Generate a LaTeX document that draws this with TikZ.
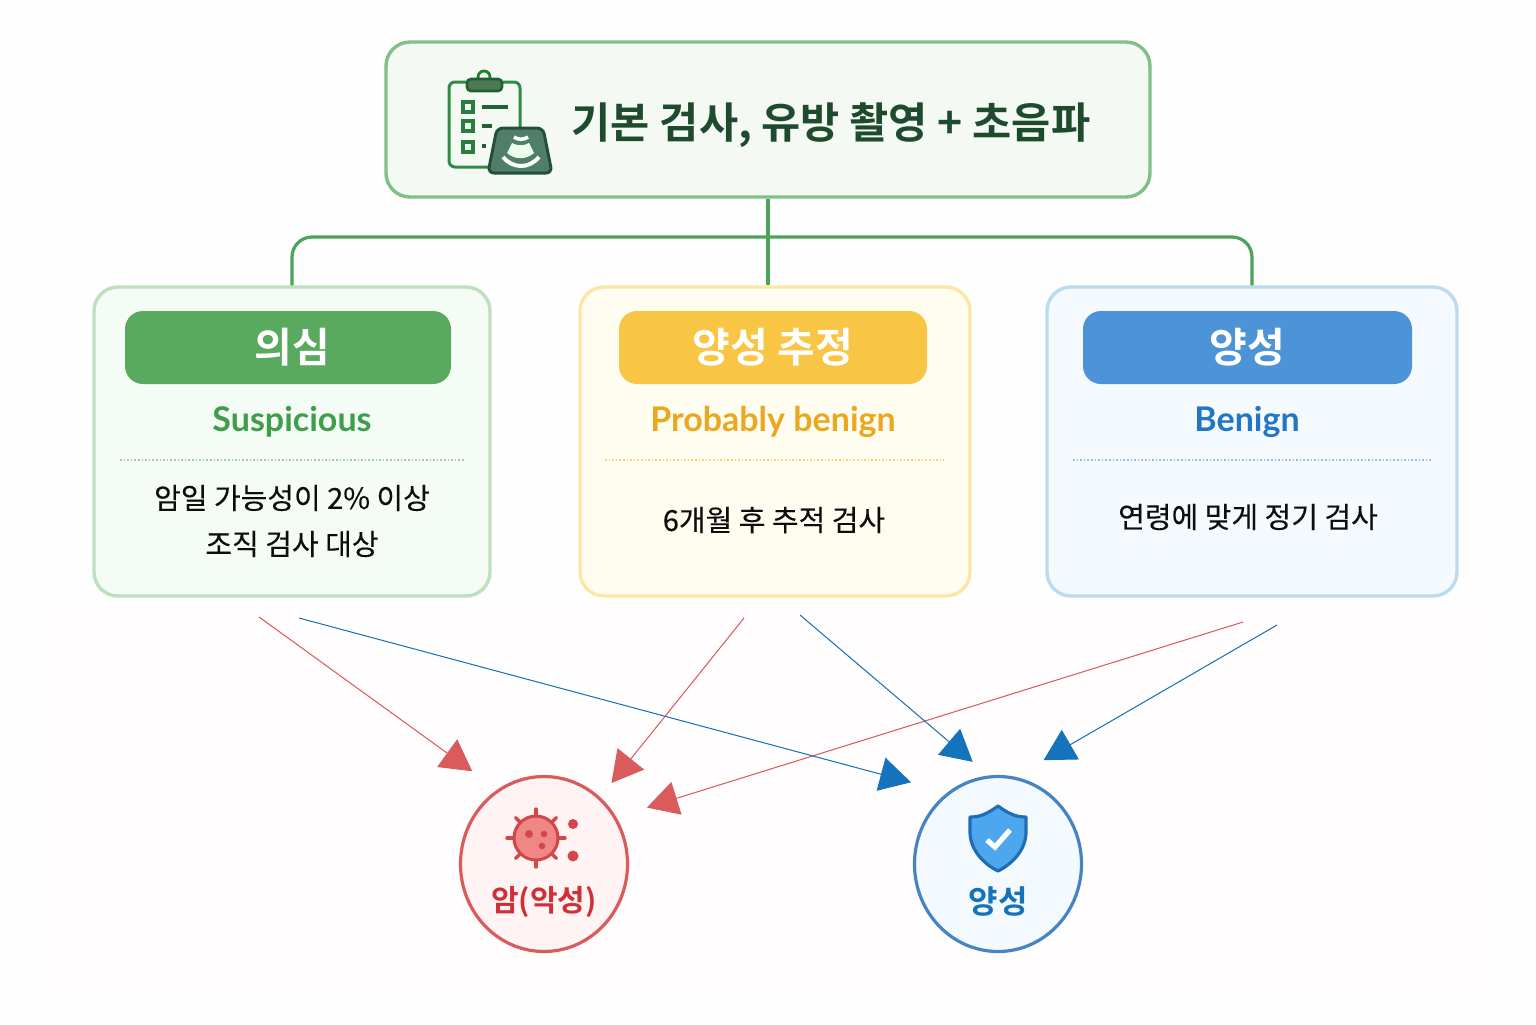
\documentclass[tikz,border=0pt]{standalone}
\usepackage{fontspec}
\usetikzlibrary{positioning,calc,arrows.meta,shapes.geometric}
\setmainfont{Lato}
\newfontfamily\kr[BoldFont={Noto Sans CJK KR Bold}]{Noto Sans CJK KR}
\newfontfamily\krmed[FakeBold=0.2]{Noto Sans CJK KR}
\definecolor{leaf}{HTML}{4CA35A}
\definecolor{clipgreen}{HTML}{2E8B45}
\definecolor{probedark}{HTML}{24503A}
\definecolor{titlegreen}{HTML}{1E4A2E}
\definecolor{cancer}{HTML}{D95B5B}
\definecolor{cure}{HTML}{1572BD}
\definecolor{badgegreen}{HTML}{59AA5F}
\definecolor{badgeyellow}{HTML}{F8C545}
\definecolor{badgeblue}{HTML}{4C93D8}
\definecolor{virusred}{HTML}{D3474B}

\begin{document}
\begin{tikzpicture}[
    x=0.5pt, y=-0.5pt,
    card/.style={draw, rounded corners=12pt, line width=1.7pt, minimum height=154.5pt, inner sep=0pt},
    badge/.style={rounded corners=9pt, minimum height=36.5pt, inner sep=0pt, text=white, font=\kr\bfseries\fontsize{20.5}{24}\selectfont},
    sublabel/.style={font=\bfseries\fontsize{17}{20}\selectfont},
    bodytext/.style={text=black!95, font=\krmed\fontsize{14.5}{18}\selectfont},
    divider/.style={densely dotted, line width=0.8pt},
    trunk/.style={draw=leaf, line width=1.6pt},
    result/.style={ellipse, line width=1.6pt, minimum width=83.5pt, minimum height=87.5pt, inner sep=0pt, draw},
    arrow/.style={line width=0.5pt, -{Triangle[length=15.5pt,width=17pt]}},
    tick/.style={draw=clipgreen!90!black, line width=1.6pt, fill=green!8}
]
\useasboundingbox (0,0) rectangle (1536,1024);
\fill[white!99.5!gray] (0,0) rectangle (1536,1024);
\fill[red!0.8!white] (40,605) rectangle (1490,1000);

% Define boxes
\node[card, draw={rgb,255:red,127;green,192;blue,138}, fill={rgb,255:red,244;green,250;blue,243}, minimum width=382pt, minimum height=77.5pt] (top) at (768,119.5) {};
\node[card, draw={rgb,255:red,191;green,224;blue,191}, fill={rgb,255:red,245;green,251;blue,245}, minimum width=198pt] (susp) at (292,441.5) {};
\node[card, draw={rgb,255:red,253;green,230;blue,165}, fill={rgb,255:red,255;green,252;blue,240}, minimum width=195pt] (prob) at (775,441.5) {};
\node[card, draw={rgb,255:red,187;green,218;blue,240}, fill={rgb,255:red,245;green,250;blue,254}, minimum width=205pt] (ben) at (1252,441.5) {};

% Title
\node[text=titlegreen, font=\kr\bfseries\fontsize{21.3}{26}\selectfont] (title) at (831,125) {기본 검사, 유방 촬영 + 초음파};

% Tree lines
\coordinate (fork) at (768,237);
\draw[trunk] (top.south) -- (top.south |- prob.north);
\draw[trunk, rounded corners=10pt] (susp.north) -- (susp.north |- fork) -- (ben.north |- fork) -- (ben.north);

% Badges
\node[badge, fill=badgegreen, minimum width=163pt] (badgeS) at (288,347.5) {\hspace*{4pt}의심};
\node[badge, fill=badgeyellow, minimum width=154pt] (badgeP) at (773,347.5) {양성 추정};
\node[badge, fill=badgeblue, minimum width=164.5pt] (badgeB) at (1247.5,347.5) {양성};

% Sub labels
\node[sublabel, text={rgb,255:red,62;green,158;blue,74}] (subS) at (292,422) {Suspicious};
\node[sublabel, text={rgb,255:red,233;green,168;blue,32}] (subP) at (773,422) {Probably benign};
\node[sublabel, text={rgb,255:red,34;green,118;blue,200}] (subB) at (1247,422) {Benign};

% Dividers
\draw[divider, draw=leaf!55!white] (120,460) -- (465,460);
\draw[divider, draw=badgeyellow!80!white] (605,460) -- (944,460);
\draw[divider, draw=badgeblue!60!white] (1073,460) -- (1431,460);

% Body text
\node[bodytext] (bodyS1) at (292,498) {암일 가능성이 2\% 이상};
\node[bodytext] (bodyS2) at (292,544) {조직 검사 대상};
\node[bodytext] (bodyP) at (774,520) {6개월 후 추적 검사};
\node[bodytext] (bodyB) at (1248,517) {연령에 맞게 정기 검사};

% Result circles
\node[result, draw=cancer, fill={rgb,255:red,255;green,243;blue,243}] (malig) at (544,864) {};
\node[result, draw=badgeblue!90!black, fill={rgb,255:red,244;green,249;blue,254}] (good) at (998,864) {};
\node[text={rgb,255:red,207;green,47;blue,53}, font=\kr\bfseries\fontsize{15}{20}\selectfont] (maligtext) at (544,902) {암(악성)};
\node[text=cure, font=\kr\bfseries\fontsize{16}{20}\selectfont] (goodtext) at (998,902) {양성};

% Arrow starts below the cards
\coordinate (s1) at (259,617);
\coordinate (s2) at (299,618);
\coordinate (p1) at (744,618);
\coordinate (p2) at (800,615);
\coordinate (b1) at (1243,622);
\coordinate (b2) at (1277,625);

\draw[arrow, draw=cancer, fill=cancer, shorten >=15.5pt] (s1) -- (malig.122);
\draw[arrow, draw=cancer, fill=cancer, shorten >=9pt] (p1) -- (malig.50);
\draw[arrow, draw=cancer, fill=cancer, shorten >=16pt] (b1) -- (malig.33);
\draw[arrow, draw=cure, fill=cure, shorten >=19pt] (s2) -- (good.125);
\draw[arrow, draw=cure, fill=cure, shorten >=10.5pt] (p2) -- (good.96);
\draw[arrow, draw=cure, fill=cure, shorten >=16.5pt] (b2) -- (good.79);

% Clipboard icon
\draw[draw=clipgreen, line width=1.5pt, rounded corners=3pt] (449,82) rectangle (520,167);
\draw[draw=probedark!70!green, line width=1.4pt] (484,77) circle (6);
\draw[draw=probedark!90!green, line width=1.3pt, fill=leaf!60!black!85, rounded corners=2pt] (467,79) rectangle (502,91);
\foreach \ypos in {107,126,147} {
    \draw[tick] ($(463,\ypos-5)$) rectangle ($(473,\ypos+5)$);
}
\draw[draw=probedark!90!green, line width=1.7pt] (482,107) -- (508,107);
\draw[draw=probedark!90!green, line width=1.7pt] (482,126) -- (492,126);
\draw[draw=probedark!90!green, line width=1.9pt] (482,146) -- (486,146);

% Probe icon
\draw[draw=probedark, line width=1.5pt, fill={rgb,255:red,79;green,127;blue,104}, rounded corners=3pt] (497,128) -- (543,128) -- (552,173) -- (488,173) -- cycle;
\draw[white, line width=1.8pt] (514,137) .. controls (518,140) and (524,140) .. (528,137);
\fill[white!92!green] (512,143) .. controls (517,146) and (524,146) .. (529,143) -- (534,153) .. controls (526,160) and (515,160) .. (507,153) -- cycle;
\draw[white, line width=2pt] (503,157) .. controls (513,169) and (529,169) .. (539,157);

% Virus icon
\foreach \ang in {0,45,...,315} {
    \draw[draw=virusred, line width=1.7pt, line cap=round] (536,838) -- ++(\ang:29);
}
\draw[draw=virusred, line width=1.5pt, fill={rgb,255:red,240;green,135;blue,135}] (536,838) circle (22);
\fill[virusred] (529,834) circle (4);
\fill[virusred] (544,834) circle (3.3);
\fill[virusred] (542,846) circle (3.3);
\fill[virusred] (573,824) circle (5);
\fill[virusred] (573,856) circle (5.5);

% Shield icon
\draw[draw={rgb,255:red,31;green,110;blue,181}, line width=1.6pt, fill={rgb,255:red,77;green,166;blue,238}, line join=round] (998,806) .. controls (987,814) and (980,817) .. (970,817) -- (970,832) .. controls (970,850) and (984,864) .. (998,871) .. controls (1012,864) and (1026,850) .. (1026,832) -- (1026,817) .. controls (1016,817) and (1009,814) .. (998,806) -- cycle;
\draw[white, line width=2.6pt] (987,840) -- (995,847) -- (1010,830);

\end{tikzpicture}
\end{document}
